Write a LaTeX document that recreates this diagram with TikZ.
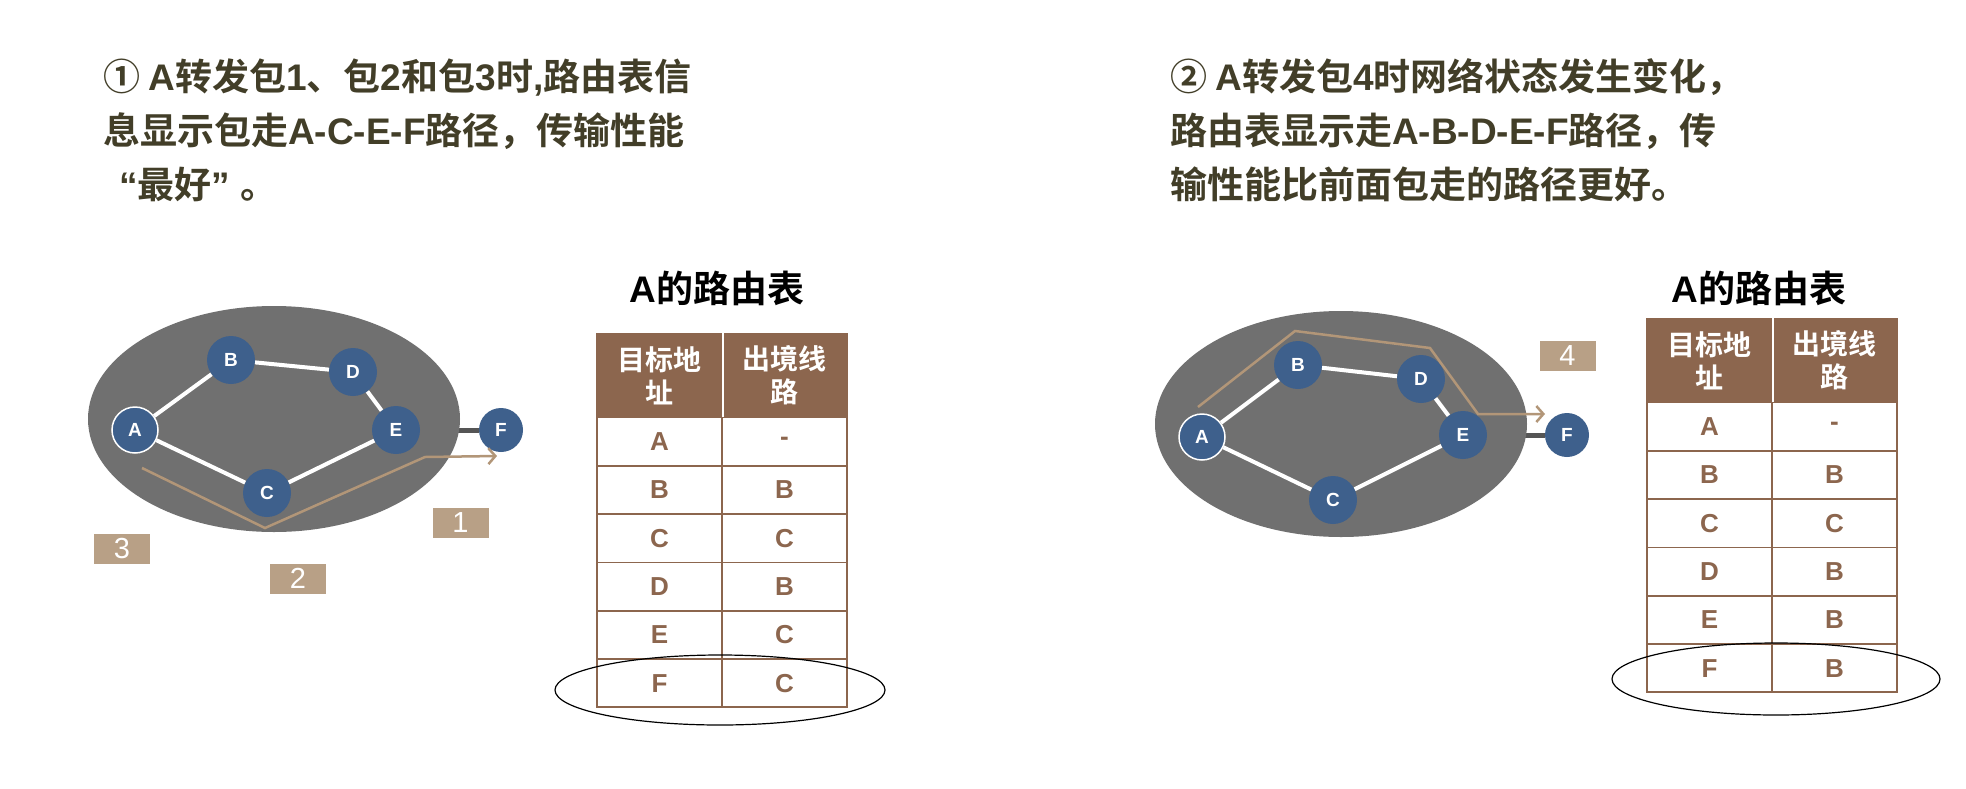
\documentclass[tikz,border=0pt]{standalone}
\usepackage{fontspec}
\setmainfont{Noto Sans CJK SC}[BoldFont={Noto Sans CJK SC Bold}]
\newfontfamily\en{Liberation Sans}
\newcommand\lat[1]{{\en #1}}
\usetikzlibrary{arrows.meta}
\definecolor{titlec}{RGB}{66,62,40}
\definecolor{nodeblue}{RGB}{62,96,140}
\definecolor{ellgray}{RGB}{112,112,112}
\definecolor{linkgray}{RGB}{85,85,85}
\definecolor{pathtan}{RGB}{178,150,120}
\definecolor{boxtan}{RGB}{184,160,134}
\definecolor{tbrown}{RGB}{140,102,78}
\pgfdeclarelayer{paper}
\pgfdeclarelayer{back}
\pgfsetlayers{paper,back,main}
\tikzset{
  router/.style={circle, fill=nodeblue, minimum size=48pt, inner sep=0pt, text=white, font=\en\bfseries\fontsize{19}{19}\selectfont},
  endrouter/.style={router, minimum size=44pt},
  srcrouter/.style={router, draw=white, line width=1.5pt, minimum size=46pt},
  link/.style={draw=white, line width=4pt},
  outlink/.style={draw=linkgray, line width=5pt},
  cloud/.style={fill=ellgray},
  pkt/.style={draw=pathtan, line width=2.5pt, -{Straight Barb[length=7pt,width=16pt]}},
  numbox/.style={fill=boxtan, minimum width=56pt, minimum height=30pt, inner sep=0pt, text=white, font=\en\fontsize{29}{29}\selectfont},
  headline/.style={anchor=base west, inner sep=0pt, text=titlec, font=\bfseries\fontsize{37}{37}\selectfont},
  tabtitle/.style={inner sep=0pt, text=black, font=\bfseries\fontsize{37}{37}\selectfont},
  hcell/.style={rectangle, fill=tbrown, draw=tbrown, line width=1.5pt, minimum width=125pt, minimum height=84pt, inner sep=0pt, text=white, align=center, font=\bfseries\fontsize{28}{33}\selectfont},
  bcell/.style={rectangle, draw=tbrown, line width=1.8pt, minimum width=125pt, minimum height=48.3pt, inner sep=0pt, text=tbrown, font=\en\bfseries\fontsize{26}{26}\selectfont},
  ring/.style={draw=black, line width=1.2pt}
}
\begin{document}
\begin{tikzpicture}[x=1pt,y=-1pt]
\begin{pgfonlayer}{paper}
\fill[white] (0,0) rectangle (1966,788);
\end{pgfonlayer}
\useasboundingbox (0,0) rectangle (1966,788);

% ---------- titles ----------
\node[headline] (h1a) at (103,90) {① \lat{A}转发包\lat{1}、包\lat{2}和包\lat{3}时\lat{,}路由表信};
\node[headline] (h1b) at (103,144) {息显示包走\lat{A-C-E-F}路径，传输性能};
\node[headline] (h1c) at (119,198) {\lat{“}最好\lat{” }。};

\node[headline] (h2a) at (1170,90) {② \lat{A}转发包\lat{4}时网络状态发生变化，};
\node[headline] (h2b) at (1170,144) {路由表显示走\lat{A-B-D-E-F}路径，传};
\node[headline] (h2c) at (1170,198) {输性能比前面包走的路径更好。};

% ---------- left network ----------
\fill[cloud] (274,419) ellipse [x radius=186pt, y radius=113pt];
\node[srcrouter] (LA) at (135,430) {A};
\node[router] (LB) at (231,360) {B};
\node[router] (LC) at (267,493) {C};
\node[router] (LD) at (353,372) {D};
\node[router] (LE) at (396,430) {E};
\node[endrouter] (LF) at (501,430) {F};
\draw[link] (LA) -- (LB);
\draw[link] (LB) -- (LD);
\draw[link] (LD) -- (LE);
\draw[link] (LA) -- (LC);
\draw[link] (LC) -- (LE);
\begin{pgfonlayer}{back}
\draw[outlink] (LE) -- (LF);
\end{pgfonlayer}
\coordinate (p1s) at (142,468);
\coordinate (p1a) at (265,528);
\coordinate (p1b) at (425,457);
\coordinate (p1e) at (497,456);
\draw[pkt] (p1s) -- (p1a) -- (p1b) -- (p1e);
\node[numbox] (n1) at (460.5,522.5) {1};
\node[numbox] (n3) at (122,548.5) {3};
\node[numbox] (n2) at (298,578.5) {2};

% ---------- right network ----------
\fill[cloud] (1341,424) ellipse [x radius=186pt, y radius=113pt];
\node[srcrouter] (RA) at (1202,437) {A};
\node[router] (RB) at (1298,365) {B};
\node[router] (RC) at (1333,500) {C};
\node[router] (RD) at (1421,379) {D};
\node[router] (RE) at (1463,435) {E};
\node[endrouter] (RF) at (1567,435) {F};
\draw[link] (RA) -- (RB);
\draw[link] (RB) -- (RD);
\draw[link] (RD) -- (RE);
\draw[link] (RA) -- (RC);
\draw[link] (RC) -- (RE);
\begin{pgfonlayer}{back}
\draw[outlink] (RE) -- (RF);
\end{pgfonlayer}
\coordinate (p4s) at (1198,407);
\coordinate (p4a) at (1295,331);
\coordinate (p4b) at (1430,348);
\coordinate (p4c) at (1478,414);
\coordinate (p4e) at (1545,414);
\draw[pkt] (p4s) -- (p4a) -- (p4b) -- (p4c) -- (p4e);
\node[numbox] (n4) at (1567.5,355.5) {4};

% ---------- left table ----------
\node[tabtitle] (LT) at (717,288) {\lat{A}的路由表};
\node[hcell] (Lh1) at (659.5,375.5) {目标地\\址};
\node[hcell] (Lh2) at (784.5,375.5) {出境线\\路};
\draw[white, line width=2pt] (Lh1.north east) -- (Lh1.south east);
\foreach \dst/\hop [count=\i] in {A/-,B/B,C/C,D/B,E/C,F/C} {
  \node[bcell] (L\i a) at (659.5,{417.5+48.3*(\i-0.5)}) {\dst};
  \node[bcell] (L\i b) at (784.5,{417.5+48.3*(\i-0.5)}) {\hop};
}
\draw[ring] (720,690) ellipse [x radius=165pt, y radius=35pt];

% ---------- right table ----------
\node[tabtitle] (RT) at (1759,288) {\lat{A}的路由表};
\node[hcell] (Rh1) at (1709.5,360.5) {目标地\\址};
\node[hcell] (Rh2) at (1834.5,360.5) {出境线\\路};
\draw[white, line width=2pt] (Rh1.north east) -- (Rh1.south east);
\foreach \dst/\hop [count=\i] in {A/-,B/B,C/C,D/B,E/B,F/B} {
  \node[bcell] (R\i a) at (1709.5,{402.5+48.3*(\i-0.5)}) {\dst};
  \node[bcell] (R\i b) at (1834.5,{402.5+48.3*(\i-0.5)}) {\hop};
}
\draw[ring] (1776,679) ellipse [x radius=164pt, y radius=36pt];
\end{tikzpicture}
\end{document}
